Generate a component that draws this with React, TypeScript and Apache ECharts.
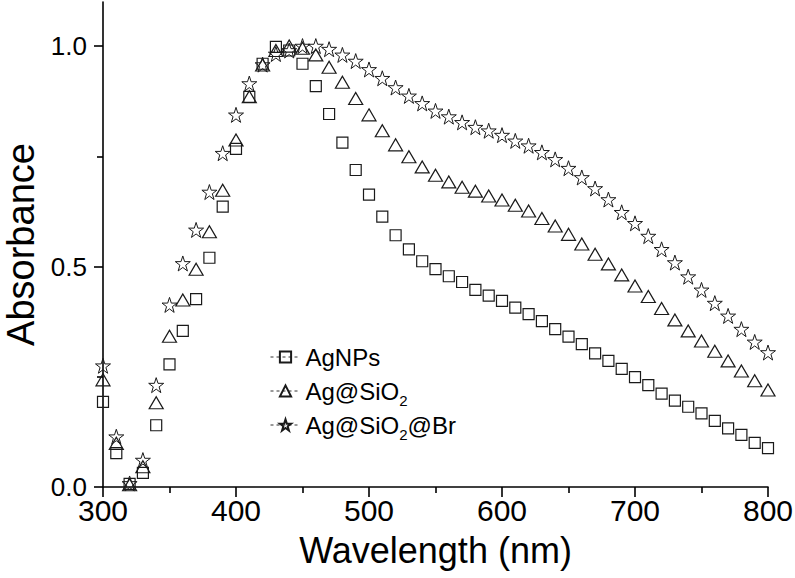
import React, { useEffect, useRef } from "react";
import * as echarts from "echarts";

const wavelengths: number[] = [
  300, 310, 320, 330, 340, 350, 360, 370, 380, 390,
  400, 410, 420, 430, 440, 450, 460, 470, 480, 490,
  500, 510, 520, 530, 540, 550, 560, 570, 580, 590,
  600, 610, 620, 630, 640, 650, 660, 670, 680, 690,
  700, 710, 720, 730, 740, 750, 760, 770, 780, 790, 800,
];

const agNPs: number[] = [
  0.193, 0.077, 0.007, 0.032, 0.14, 0.278, 0.354, 0.426, 0.52, 0.636,
  0.767, 0.885, 0.96, 0.998, 0.99, 0.96, 0.909, 0.846, 0.781, 0.719,
  0.663, 0.613, 0.571, 0.539, 0.512, 0.494, 0.478, 0.465, 0.447, 0.434,
  0.422, 0.407, 0.392, 0.376, 0.358, 0.341, 0.324, 0.303, 0.286, 0.268,
  0.249, 0.231, 0.212, 0.196, 0.182, 0.167, 0.15, 0.133, 0.118, 0.1, 0.088,
];

const agSiO2: number[] = [
  0.243, 0.099, 0.005, 0.046, 0.191, 0.342, 0.424, 0.494, 0.579, 0.673,
  0.787, 0.885, 0.957, 0.99, 1.0, 0.995, 0.98, 0.952, 0.918, 0.881,
  0.844, 0.808, 0.776, 0.749, 0.726, 0.707, 0.692, 0.68, 0.671, 0.66,
  0.651, 0.639, 0.626, 0.609, 0.592, 0.573, 0.551, 0.528, 0.506, 0.481,
  0.456, 0.432, 0.405, 0.379, 0.354, 0.331, 0.308, 0.286, 0.263, 0.241, 0.22,
];

const agSiO2Br: number[] = [
  0.275, 0.114, 0.008, 0.061, 0.231, 0.413, 0.507, 0.583, 0.669, 0.757,
  0.844, 0.915, 0.958, 0.982, 0.99, 1.0, 1.0, 0.993, 0.98, 0.966,
  0.947, 0.927, 0.906, 0.887, 0.87, 0.853, 0.84, 0.827, 0.816, 0.808,
  0.798, 0.785, 0.774, 0.759, 0.743, 0.723, 0.702, 0.677, 0.652, 0.623,
  0.598, 0.569, 0.539, 0.509, 0.477, 0.447, 0.417, 0.388, 0.358, 0.329, 0.305,
];

const seriesNames: string[] = ["AgNPs", "Ag@SiO2", "Ag@SiO2@Br"];
const legendLabels: string[] = ["AgNPs", "Ag@SiO{sub|2}", "Ag@SiO{sub|2}@Br"];
const yMajorTicks: number[] = [0, 0.5, 1.0];
const yMinorTicks: number[] = [0.25, 0.75];

const FONT = "'Liberation Sans', Arial, Helvetica, sans-serif";
const STAR =
  "path://M50 0 L61.8 35.1 L98.9 35.1 L69 57 L80.2 92.7 L50 71 L19.8 92.7 L31 57 L1.1 35.1 L38.2 35.1 Z";

export default function App() {
  const ref = useRef<HTMLDivElement>(null);

  useEffect(() => {
    document.body.style.margin = "0";
    if (!ref.current) return;
    const chart = echarts.init(ref.current, undefined, { renderer: "svg" });

    const pair = (vals: number[]) => wavelengths.map((w, i) => [w, vals[i]]);
    const mk = (name: string, vals: number[], symbol: string, size: any, bw: number) => ({
      name,
      type: "line",
      data: pair(vals),
      symbol,
      symbolSize: size,
      showSymbol: true,
      showAllSymbol: true,
      clip: false,
      lineStyle: { opacity: 0, width: 0 },
      itemStyle: {
        color: "rgba(255,255,255,0)",
        borderColor: "#1a1a1a",
        borderWidth: bw,
      },
      emphasis: { disabled: true },
      z: 3,
    });

    const axisLine = { show: true, lineStyle: { color: "#000", width: 1.6 } };

    chart.setOption({
      animation: false,
      backgroundColor: "#fff",
      grid: {
        left: 103,
        right: 27,
        top: 2,
        bottom: 91,
        containLabel: false,
        outerBoundsMode: "none",
      },
      legend: {
        orient: "vertical",
        left: 270,
        top: 340,
        padding: 0,
        itemWidth: 30,
        itemHeight: 14,
        itemGap: 0,
        data: seriesNames,
        formatter: (name: string) => legendLabels[seriesNames.indexOf(name)],
        lineStyle: { type: [3, 3], width: 1, color: "#333", opacity: 1 },
        textStyle: {
          fontFamily: FONT,
          fontSize: 24,
          color: "#000",
          lineHeight: 34,
          rich: {
            sub: {
              fontFamily: FONT,
              fontSize: 15,
              lineHeight: 6,
              verticalAlign: "bottom",
              color: "#000",
            },
          },
        },
        selectedMode: false,
      },
      xAxis: {
        type: "value",
        min: 300,
        max: 800,
        interval: 100,
        name: "Wavelength (nm)",
        nameLocation: "middle",
        nameGap: 45,
        nameTextStyle: { fontFamily: FONT, fontSize: 36, color: "#000" },
        axisLine,
        axisTick: { show: true, length: 10, lineStyle: { color: "#000", width: 1.6 } },
        minorTick: { show: true, splitNumber: 2, length: 6, lineStyle: { color: "#000", width: 1.6 } },
        axisLabel: { fontFamily: FONT, fontSize: 30, color: "#000", margin: 8 },
        splitLine: { show: false },
      },
      yAxis: [
        {
          type: "value",
          min: 0,
          max: 1.1,
          position: "left",
          name: "Absorbance",
          nameLocation: "middle",
          nameGap: 62,
          nameTextStyle: { fontFamily: FONT, fontSize: 38, color: "#000" },
          axisLine,
          axisTick: {
            show: true,
            length: 9,
            customValues: yMajorTicks,
            lineStyle: { color: "#000", width: 1.6 },
          },
          axisLabel: {
            fontFamily: FONT,
            fontSize: 26,
            color: "#000",
            margin: 16,
            customValues: yMajorTicks,
            formatter: (v: number) => v.toFixed(1),
          },
          splitLine: { show: false },
        },
        {
          type: "value",
          min: 0,
          max: 1.1,
          position: "left",
          axisLine: { show: false },
          axisTick: {
            show: true,
            length: 6,
            customValues: yMinorTicks,
            lineStyle: { color: "#000", width: 1.6 },
          },
          axisLabel: { show: false },
          splitLine: { show: false },
        },
      ],
      series: [
        mk(seriesNames[0], agNPs, "rect", 11, 1.2),
        mk(seriesNames[1], agSiO2, "triangle", [14, 12], 1.2),
        mk(seriesNames[2], agSiO2Br, STAR, 15, 1),
      ],
    });

    return () => chart.dispose();
  }, []);

  return (
    <div
      ref={ref}
      style={{ position: "absolute", left: 0, top: 0, width: 795, height: 578 }}
    />
  );
}
